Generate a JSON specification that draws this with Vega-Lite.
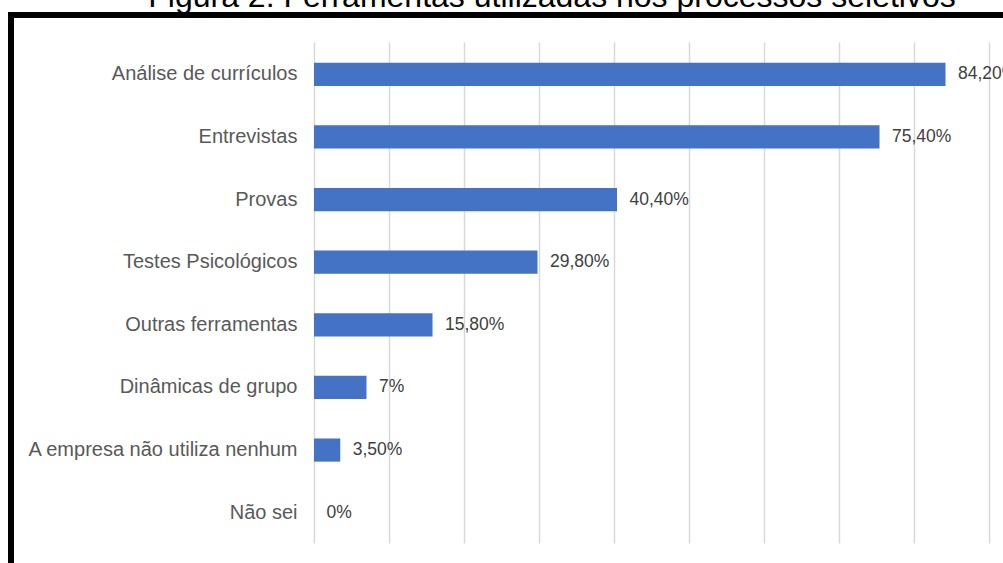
{
  "$schema": "https://vega.github.io/schema/vega-lite/v6.json",
  "autosize": {"type": "none"},
  "padding": {"left": 11, "top": 15, "right": 0, "bottom": 0},
  "width": 1000,
  "height": 556,
  "background": "white",
  "title": {
    "text": "Figura 2: Ferramentas utilizadas nos processos seletivos",
    "anchor": "middle",
    "frame": "group",
    "dx": 41,
    "offset": -24,
    "baseline": "alphabetic",
    "font": "Liberation Sans",
    "fontSize": 32,
    "fontWeight": "normal",
    "color": "#000000"
  },
  "config": {
    "view": {"stroke": "#000000", "strokeWidth": 6, "fill": "white"},
    "font": "Liberation Sans"
  },
  "data": {
    "values": [
      {"ferramenta": "Análise de currículos", "pct": 84.2, "rotulo": "84,20%"},
      {"ferramenta": "Entrevistas", "pct": 75.4, "rotulo": "75,40%"},
      {"ferramenta": "Provas", "pct": 40.4, "rotulo": "40,40%"},
      {"ferramenta": "Testes Psicológicos", "pct": 29.8, "rotulo": "29,80%"},
      {"ferramenta": "Outras ferramentas", "pct": 15.8, "rotulo": "15,80%"},
      {"ferramenta": "Dinâmicas de grupo", "pct": 7, "rotulo": "7%"},
      {"ferramenta": "A empresa não utiliza nenhum", "pct": 3.5, "rotulo": "3,50%"},
      {"ferramenta": "Não sei", "pct": 0, "rotulo": "0%"}
    ]
  },
  "encoding": {
    "y": {
      "field": "ferramenta",
      "type": "nominal",
      "sort": null,
      "title": null,
      "scale": {"range": [28, 529], "paddingInner": 0.63, "paddingOuter": 0.315},
      "axis": {
        "orient": "left",
        "offset": -303,
        "domain": false,
        "ticks": false,
        "tickSize": 0,
        "grid": false,
        "labelPadding": 17,
        "labelFont": "Liberation Sans",
        "labelFontSize": 20,
        "labelColor": "#595959",
        "labelLimit": 400
      }
    },
    "x": {
      "field": "pct",
      "type": "quantitative",
      "title": null,
      "scale": {"domain": [0, 100], "range": [303, 1053], "nice": false, "zero": true},
      "axis": {
        "values": [0, 10, 20, 30, 40, 50, 60, 70, 80, 90, 100],
        "labels": false,
        "ticks": false,
        "domain": false,
        "grid": true,
        "gridColor": "#d9d9d9",
        "gridWidth": 1.5
      }
    }
  },
  "layer": [
    {"mark": {"type": "bar", "color": "#4472C4"}},
    {
      "mark": {
        "type": "text",
        "align": "left",
        "baseline": "middle",
        "dx": 12.5,
        "font": "Liberation Sans",
        "fontSize": 17.5,
        "color": "#404040"
      },
      "encoding": {"text": {"field": "rotulo"}}
    }
  ]
}
